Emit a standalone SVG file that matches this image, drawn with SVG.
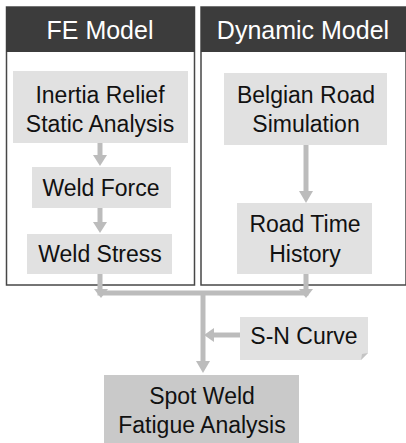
<svg xmlns="http://www.w3.org/2000/svg" width="406" height="443" viewBox="0 0 406 443">
<style>
.panel{fill:#fff;stroke:#474747;stroke-width:1.5}
.head{fill:#3c3c3c}
.ht{font-family:"Liberation Sans",Arial,sans-serif;font-size:25px;fill:#fff;text-anchor:middle}
.box{fill:#e1e1e1}
.dark{fill:#c9c9c9}
.t{font-family:"Liberation Sans",Arial,sans-serif;font-size:23px;fill:#111;text-anchor:middle}
.c{fill:none;stroke:#bcbcbc;stroke-width:5}
.ah{fill:#bcbcbc}
</style>
<g id="fe-panel">
<rect class="panel" x="6.5" y="7" width="188" height="278"/>
<rect class="head" x="6" y="7" width="189" height="45"/>
<text class="ht" x="100" y="39">FE Model</text>
</g>
<g id="dyn-panel">
<rect class="panel" x="201" y="7" width="205" height="278"/>
<rect class="head" x="201" y="7" width="205" height="45"/>
<text class="ht" x="303" y="39">Dynamic Model</text>
</g>
<g id="connectors">
<line class="c" x1="100" y1="143" x2="100" y2="156"/>
<polygon class="ah" points="93,155 107,155 100,166"/>
<line class="c" x1="100" y1="208" x2="100" y2="223"/>
<polygon class="ah" points="93,222 107,222 100,233"/>
<line class="c" x1="306" y1="145" x2="306" y2="192"/>
<polygon class="ah" points="299,191 313,191 306,203"/>
<polyline class="c" points="100,274 100,293 306,293 306,274"/>
<polygon class="ah" points="94,289 108,289 101,298"/>
<polygon class="ah" points="299,289 313,289 306,298"/>
<line class="c" x1="203" y1="293" x2="203" y2="362"/>
<polygon class="ah" points="196,361 210,361 203,373"/>
<line class="c" x1="240" y1="335" x2="213" y2="335"/>
<polygon class="ah" points="214,328 214,342 204,335"/>
</g>
<g id="inertia">
<rect class="box" x="13" y="71" width="175" height="72"/>
<text class="t" x="100" y="103">Inertia Relief</text>
<text class="t" x="100" y="132">Static Analysis</text>
</g>
<g id="weld-force">
<rect class="box" x="32" y="167" width="139" height="41"/>
<text class="t" x="101" y="196">Weld Force</text>
</g>
<g id="weld-stress">
<rect class="box" x="27" y="234" width="145" height="40"/>
<text class="t" x="100" y="262">Weld Stress</text>
</g>
<g id="belgian">
<rect class="box" x="224" y="73" width="163" height="72"/>
<text class="t" x="306" y="103">Belgian Road</text>
<text class="t" x="306" y="132">Simulation</text>
</g>
<g id="road-time">
<rect class="box" x="237" y="203" width="135" height="71"/>
<text class="t" x="305" y="232">Road Time</text>
<text class="t" x="305" y="262">History</text>
</g>
<g id="sn-curve">
<path class="box" d="M240,317 H368 V353 L361,360 H240 Z"/>
<path d="M361,360 L368,353 L362,354 Z" fill="#c4c4c4"/>
<text class="t" x="304" y="344">S-N Curve</text>
</g>
<g id="spot-weld">
<rect class="dark" x="104" y="375" width="195" height="68"/>
<text class="t" x="202" y="404">Spot Weld</text>
<text class="t" x="202" y="433">Fatigue Analysis</text>
</g>
</svg>
